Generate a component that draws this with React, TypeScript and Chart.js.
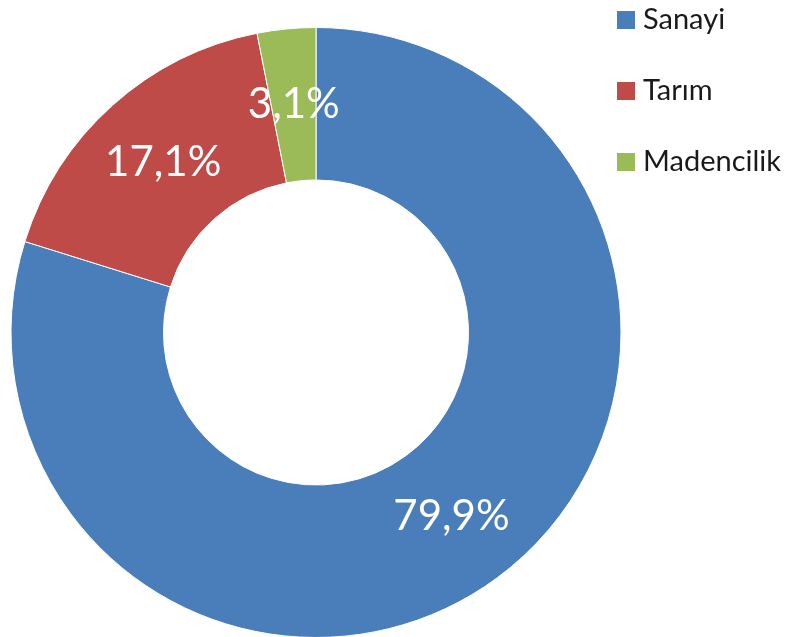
import React, { useEffect, useRef } from "react";
import { Chart, registerables } from "chart.js";

Chart.register(...registerables);

const categories = ["Sanayi", "Tarım", "Madencilik"];
const values = [79.9, 17.1, 3.1];
const valueLabels = ["79,9%", "17,1%", "3,1%"];
const colors = ["#4A7EBB", "#BE4B48", "#9BBB59"];

const FONT = "Lato, 'Open Sans', sans-serif";

const labelsPlugin = {
  id: "sliceLabels",
  afterDatasetsDraw(chart: any) {
    const ctx = chart.ctx;
    const meta = chart.getDatasetMeta(0);
    ctx.save();
    ctx.fillStyle = "#ffffff";
    ctx.font = `42px ${FONT}`;
    ctx.textAlign = "center";
    ctx.textBaseline = "middle";
    meta.data.forEach((arc: any, i: number) => {
      const p = arc.getCenterPoint();
      ctx.fillText(valueLabels[i], p.x, p.y);
    });
    ctx.restore();
  },
};

const legendPlugin = {
  id: "sideLegend",
  afterDraw(chart: any) {
    const ctx = chart.ctx;
    ctx.save();
    ctx.font = `29px ${FONT}`;
    ctx.textAlign = "left";
    ctx.textBaseline = "alphabetic";
    categories.forEach((c, i) => {
      const y = 11 + i * 71;
      ctx.fillStyle = colors[i];
      ctx.fillRect(617, y, 18, 18);
      ctx.fillStyle = "#1a1a1a";
      ctx.fillText(c, 643, y + 18);
    });
    ctx.restore();
  },
};

export default function App() {
  const ref = useRef<HTMLCanvasElement>(null);
  useEffect(() => {
    if (!ref.current) return;
    const chart = new Chart(ref.current, {
      type: "doughnut",
      data: {
        labels: categories,
        datasets: [
          {
            data: values,
            backgroundColor: colors,
            borderColor: "#ffffff",
            borderWidth: 1,
          },
        ],
      },
      options: {
        responsive: false,
        animation: false,
        cutout: "50%",
        layout: { padding: { left: 10, right: 165, top: 27, bottom: 2 } },
        plugins: {
          legend: { display: false },
          tooltip: { enabled: false },
        },
      },
      plugins: [labelsPlugin, legendPlugin],
    });
    return () => chart.destroy();
  }, []);
  return (
    <div style={{ position: "fixed", left: 0, top: 0, width: 787, height: 637, overflow: "hidden", background: "#fff" }}>
      <canvas ref={ref} width={787} height={640} style={{ display: "block" }} />
    </div>
  );
}
